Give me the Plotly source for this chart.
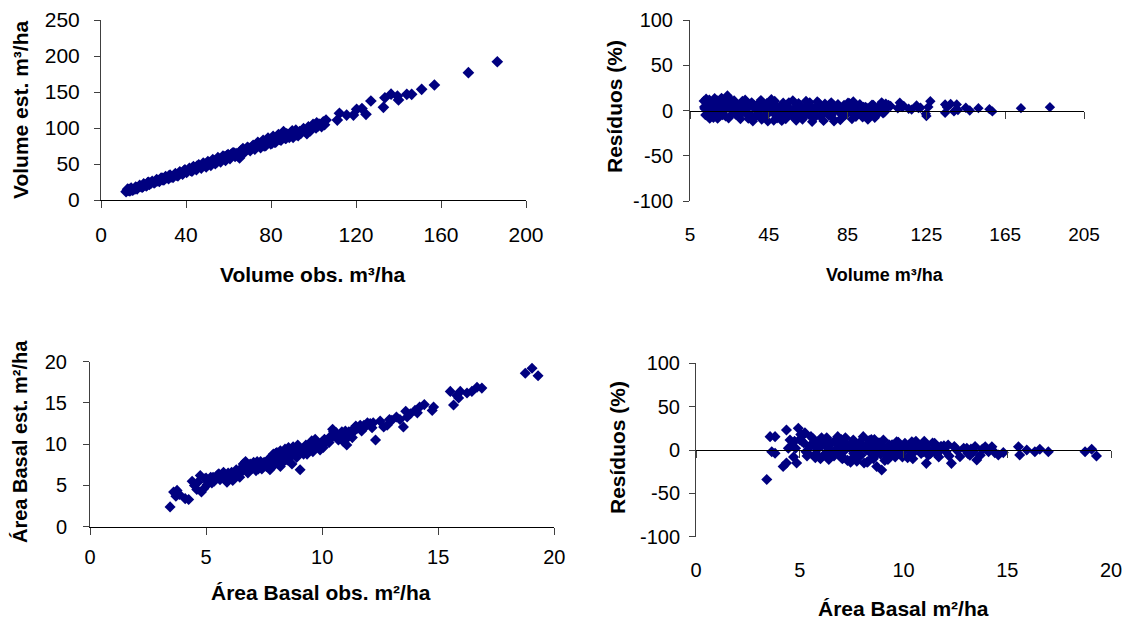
import plotly.graph_objects as go

# ---------------- Data ----------------
# Panel 1: Volume observed vs estimated (m3/ha)
vol_obs = [11.8, 12.5, 13.6, 14.2, 15.1, 16.3, 17.0, 18.2, 19.4, 20.1,
           21.3, 22.0, 22.8, 24.1, 25.0, 26.2, 27.5, 28.3, 29.6, 30.4,
           31.8, 32.5, 33.9, 35.0, 36.2, 37.1, 38.4, 39.5, 40.3, 41.6,
           42.8, 43.5, 44.9, 46.0, 47.2, 48.1, 49.5, 50.3, 51.7, 52.6,
           53.8, 55.0, 56.3, 57.4, 58.6, 59.8, 60.7, 61.9, 63.1, 64.0,
           65.2, 66.8, 67.5, 68.9, 70.2, 71.6, 72.4, 73.8, 75.1, 76.3,
           77.5, 78.6, 79.9, 81.0, 82.2, 83.5, 84.7, 85.9, 86.8, 88.0,
           89.3, 90.4, 91.7, 92.8, 94.0, 95.3, 96.5, 97.6, 98.4, 99.8,
           101.2, 101.5, 103.8, 104.6, 105.9, 111.2, 112.2, 115.6, 118.8, 120.3,
           122.8, 124.7, 127.0, 132.9, 133.6, 136.5, 139.5, 140.0, 143.9, 146.2,
           150.9, 156.9, 172.9, 186.5,
           12.9, 14.7, 16.8, 18.9, 21.8, 23.5, 26.8, 29.0, 31.0, 33.0,
           34.4, 36.7, 38.9, 41.0, 43.1, 45.5, 47.7, 49.0, 51.0, 53.2,
           54.4, 55.6, 57.9, 59.2, 61.3, 62.5, 64.6, 66.0, 68.2, 69.5,
           71.0, 73.1, 74.4, 76.8, 78.0, 80.5, 82.8, 84.1, 85.3, 87.4,
           88.6, 90.0, 91.2, 93.5, 95.0, 96.9, 99.0, 100.5, 102.6, 105.2,
           13.2, 16.0, 19.8, 22.4, 25.6, 28.9, 32.0, 35.6, 39.0, 42.2,
           45.2, 48.5, 52.0, 55.3, 58.0, 60.2, 63.6, 66.3, 69.2, 72.0,
           75.6, 78.3, 81.6, 84.4, 87.1, 89.8, 92.2, 95.6, 98.9, 102.2]
vol_est = [11.6, 15.0, 12.8, 16.5, 14.0, 18.0, 15.5, 20.2, 17.8, 22.5,
           19.6, 24.0, 21.5, 26.0, 23.8, 28.5, 25.9, 30.4, 27.8, 32.6,
           29.5, 34.6, 31.5, 36.8, 33.6, 39.0, 35.9, 41.8, 38.2, 44.0,
           40.1, 46.5, 42.0, 48.8, 44.3, 51.2, 46.0, 53.5, 48.2, 56.0,
           50.4, 58.8, 53.0, 61.0, 55.0, 63.2, 57.5, 65.0, 60.4, 62.0,
           58.5, 71.5, 66.0, 73.0, 68.6, 76.0, 70.5, 80.2, 72.8, 83.0,
           75.5, 86.0, 78.0, 88.5, 80.4, 91.0, 83.0, 95.0, 85.5, 90.0,
           93.5, 87.0, 97.0, 89.5, 92.6, 99.0, 94.5, 101.5, 96.0, 105.0,
           100.0, 107.0, 102.0, 108.5, 111.0, 111.0, 120.4, 118.0, 118.0, 126.0,
           127.0, 119.0, 137.5, 128.7, 142.0, 147.0, 144.4, 139.0, 146.8, 146.8,
           153.7, 159.7, 176.8, 192.0,
           13.5, 13.8, 17.2, 18.5, 21.0, 23.4, 26.5, 28.4, 31.0, 32.0,
           34.0, 37.5, 38.5, 41.2, 44.8, 45.0, 47.5, 50.0, 52.0, 54.5,
           52.5, 56.5, 58.2, 61.8, 63.5, 65.5, 60.8, 69.0, 70.0, 72.0,
           73.5, 75.8, 77.5, 75.0, 82.0, 79.0, 86.5, 84.0, 89.5, 92.0,
           87.0, 96.0, 93.0, 95.0, 96.5, 92.0, 100.5, 104.0, 105.5, 104.5,
           14.8, 15.4, 19.0, 24.5, 25.0, 30.2, 33.5, 34.5, 40.5, 41.0,
           47.0, 49.5, 51.0, 57.0, 60.0, 59.5, 64.5, 68.0, 71.0, 74.0,
           78.5, 81.5, 80.5, 88.0, 86.0, 93.0, 90.5, 97.5, 98.0, 103.0]

# Panel 2: residuals (%) vs volume
vres_x = [12.0, 12.4, 13.5, 14.8, 15.5, 16.9, 17.5, 18.3, 19.6, 20.4,
          21.0, 22.2, 23.1, 24.0, 25.3, 26.5, 27.4, 28.8, 29.9, 31.2,
          32.0, 33.5, 34.6, 35.8, 36.9, 38.0, 39.2, 40.5, 41.4, 42.7,
          43.9, 45.1, 46.3, 47.5, 48.6, 49.8, 51.0, 52.3, 53.6, 54.5,
          55.9, 57.2, 58.4, 59.5, 60.8, 62.1, 63.3, 64.5, 65.8, 67.0,
          68.4, 69.6, 70.9, 72.2, 73.5, 74.8, 76.0, 77.4, 78.8, 80.1,
          81.3, 82.6, 83.9, 85.2, 86.6, 87.9, 89.2, 90.6, 91.9, 93.3,
          94.7, 96.0, 97.4, 98.8, 100.2, 101.5, 103.0, 104.4, 106.8, 111.5,
          112.7, 116.0, 120.0, 121.0, 124.7, 125.0, 127.0, 134.5, 134.5, 137.3,
          139.0, 140.4, 145.0, 147.0, 151.4, 157.0, 158.5, 173.0, 187.7,
          12.8, 13.9, 15.0, 16.2, 17.2, 18.8, 20.0, 21.6, 22.6, 23.6,
          24.6, 25.8, 27.0, 28.1, 29.3, 30.6, 31.6, 32.8, 34.0, 35.2,
          36.3, 37.5, 38.6, 39.8, 41.0, 42.1, 43.3, 44.5, 45.7, 46.9,
          48.0, 49.2, 50.4, 51.6, 52.9, 54.0, 55.2, 56.5, 57.8, 58.9,
          60.1, 61.4, 62.7, 63.9, 65.1, 66.4, 67.7, 69.0, 70.3, 71.5,
          72.8, 74.1, 75.4, 76.7, 78.1, 79.4, 80.7, 82.0, 83.2, 84.5,
          85.9, 87.2, 88.5, 89.9, 91.2, 92.6, 94.0, 95.3, 96.7, 98.1,
          99.5, 100.8, 102.3, 103.7, 105.5, 13.2, 19.0, 25.0, 33.0, 44.0,
          12.2, 14.0, 15.8, 17.8, 19.2, 21.4, 23.3, 24.8, 26.9, 28.5,
          30.2, 32.2, 34.2, 36.0, 37.8, 39.5, 41.2, 43.0, 44.8, 46.6,
          48.3, 50.1, 51.9, 53.2, 55.0, 56.8, 58.6, 60.4, 62.3, 64.1,
          65.9, 67.8, 69.6, 71.3, 73.2, 75.0, 76.9, 78.5, 80.4, 82.3,
          84.0, 85.8, 87.6, 89.5, 91.4, 93.0, 94.9, 96.8, 98.5, 100.4,
          102.0, 104.0, 105.8, 110.5, 113.5, 117.5, 122.0, 126.0, 135.5, 141.0]
vres = [10.5, 2.0, -4.0, 12.0, 6.0, -8.0, 13.5, 3.0, -2.0, 9.0,
        14.0, 0.5, -6.5, 16.5, 5.0, -3.5, 11.0, 2.5, -7.0, 8.0,
        -1.0, 4.5, -9.0, 6.0, -12.0, 2.0, -5.0, 9.5, -10.0, 3.5,
        7.0, -2.5, 12.5, -11.0, 5.0, -6.0, 0.0, 8.5, -9.5, 3.0,
        -4.0, 11.0, -7.5, 1.5, 6.0, -10.0, 4.0, -3.0, 9.0, -12.5,
        2.5, 10.0, -6.0, 0.5, 7.5, -3.5, 4.5, -8.5, 1.0, 7.0,
        -10.5, 3.5, -5.0, 8.5, -2.0, 10.0, -7.0, 5.0, -1.5, -6.5,
        3.0, -4.0, 6.5, -8.0, 2.0, 5.5, -3.0, 7.5, 5.0, 8.5,
        3.7, 2.0, 5.5, 2.6, -3.7, -6.0, 10.3, 6.6, -2.6, 7.3,
        -1.0, 6.6, 3.0, 0.0, 2.6, 1.5, -1.0, 2.6, 3.7,
        -5.0, 8.0, -9.0, 4.0, -3.0, 11.0, 6.0, -5.0, 10.0, 3.0,
        -8.5, 12.0, 0.0, -4.5, 6.5, -9.5, 10.5, -2.0, 5.0, -6.0,
        9.0, -8.0, 4.0, -3.0, 11.5, -7.0, 1.0, -12.0, 8.0, -2.0,
        10.5, -8.5, 4.0, -11.5, 6.5, -2.5, 9.0, -5.5, 2.0, -11.0,
        8.0, 0.0, -7.0, 10.5, -4.5, 5.0, -9.0, 3.0, 8.5, -6.5,
        -11.5, 2.0, -5.5, 9.0, -12.0, 4.0, 0.0, -8.0, 6.0, -3.5,
        8.0, -9.5, 2.5, -4.0, 7.0, -7.5, 4.0, -10.0, 1.5, 6.0,
        -5.5, 3.0, 9.0, -2.0, 3.5, 13.0, -9.0, 7.0, 12.0, 8.0,
        4.0, -1.0, 7.5, 1.0, -4.5, 6.0, 2.0, 8.5, -1.5, 5.0,
        -4.0, 0.5, 2.5, -5.0, 5.5, -1.0, 3.0, -6.0, 1.5, 4.5,
        -3.5, 2.5, -6.5, 1.0, 4.0, -2.0, 3.5, -4.5, 2.0, -1.0,
        3.0, -3.0, 1.5, 4.5, -2.5, 1.0, -5.0, 3.0, -1.5, 2.5,
        -4.0, 1.0, 3.5, -2.5, 0.5, 4.0, -2.0, 1.0, -4.5, 1.5,
        0.5, 2.0, 6.0, 2.5, 5.0, 1.0, 3.0, 4.0, 3.5, 0.5]

# Panel 3: basal area observed vs estimated (m2/ha)
ba_obs = [3.45, 3.6, 3.75, 3.85, 3.7, 4.1, 4.25, 4.4, 4.5, 4.6,
          4.75, 4.8, 4.9, 5.05, 5.2, 5.35, 5.5, 5.6, 5.75, 5.9,
          6.0, 6.15, 6.3, 6.4, 6.55, 6.7, 6.8, 6.9, 7.0, 7.15,
          7.3, 7.4, 7.55, 7.65, 7.75, 7.85, 7.95, 8.05, 8.1, 8.2,
          8.3, 8.4, 8.5, 8.6, 8.7, 8.8, 8.9, 9.0, 9.05, 9.2,
          9.3, 9.48, 9.6, 9.77, 9.91, 10.05, 10.2, 10.34, 10.49, 10.63,
          10.78, 10.92, 11.06, 11.2, 11.35, 11.5, 11.64, 11.85, 12.07, 12.3,
          12.65, 12.8, 13.0, 13.2, 13.5, 13.66, 13.8, 14.0, 14.2, 14.74,
          14.8, 15.52, 15.66, 15.8, 15.88, 15.95, 16.24, 16.45, 16.67, 16.88,
          5.15, 5.45, 5.8, 6.1, 6.45, 6.85, 7.2, 7.5, 7.9, 8.15,
          8.45, 8.75, 9.1, 9.4, 9.7, 10.0, 10.45, 10.7, 11.0, 11.3,
          18.75, 19.04, 19.3,
          4.65, 4.95, 5.25, 5.55, 5.7, 5.95, 6.2, 6.5, 6.6, 6.75,
          6.95, 7.05, 7.25, 7.45, 7.7, 7.8, 8.0, 8.25, 8.35, 8.55,
          8.65, 8.85, 8.95, 9.15, 9.35, 9.55, 9.65, 9.85, 10.1, 10.3,
          10.55, 10.85, 11.1, 11.4, 11.7, 11.95, 12.15, 12.5, 13.35, 14.4,
          5.0, 5.3, 5.65, 6.05, 6.35, 6.6, 7.1, 7.35, 7.6, 7.85,
          8.05, 8.2, 8.4, 8.6, 8.8, 9.0, 9.25, 9.5, 9.75, 10.0,
          10.4, 10.6, 10.9, 11.15, 11.45, 11.8, 12.2, 12.9, 13.6, 14.1]
ba_est = [2.4, 4.2, 4.4, 3.9, 3.7, 3.4, 3.3, 5.5, 5.0, 4.5,
          6.2, 4.2, 4.6, 5.1, 6.0, 5.5, 6.3, 5.7, 6.6, 5.4,
          6.2, 5.6, 6.9, 6.3, 7.2, 7.9, 6.5, 7.6, 7.1, 6.8,
          7.6, 7.0, 7.4, 8.0, 6.9, 8.3, 7.5, 9.0, 8.0, 7.3,
          8.7, 9.4, 8.1, 8.9, 7.6, 9.3, 8.4, 9.6, 6.9, 8.8,
          9.9, 10.1, 9.1, 10.1, 9.3, 9.6, 10.4, 10.9, 11.5, 11.1,
          10.9, 10.3, 9.9, 11.2, 11.5, 11.9, 12.3, 12.1, 12.5, 10.5,
          12.1, 12.3, 12.9, 13.3, 12.1, 13.3, 13.7, 14.1, 14.5, 14.1,
          14.5, 16.4, 14.75, 15.9, 15.6, 16.4, 16.2, 16.4, 16.9, 16.8,
          5.6, 6.1, 6.0, 6.6, 6.0, 7.4, 7.9, 7.8, 8.8, 8.2,
          8.6, 9.7, 9.2, 9.6, 10.6, 10.0, 11.8, 10.5, 11.6, 10.8,
          18.6, 19.2, 18.3,
          5.4, 5.8, 5.3, 6.4, 6.1, 6.5, 6.0, 6.6, 7.6, 7.0,
          7.3, 7.8, 7.0, 7.2, 8.2, 7.6, 8.9, 8.6, 7.9, 9.6,
          8.5, 9.0, 9.9, 9.4, 8.8, 10.4, 9.6, 9.8, 10.6, 10.2,
          11.2, 11.5, 10.8, 12.0, 11.6, 12.6, 12.0, 12.8, 13.0, 14.8,
          5.9, 6.0, 6.2, 6.0, 6.7, 6.9, 7.5, 7.9, 7.3, 8.6,
          8.2, 9.2, 8.8, 8.7, 9.3, 9.1, 9.5, 9.8, 10.2, 10.3,
          10.8, 11.4, 11.0, 11.5, 12.2, 12.3, 12.6, 13.0, 14.0, 13.8]

# Panel 4: residuals (%) vs basal area
bres_x = [3.41, 3.57, 3.81, 3.65, 3.81, 4.2, 4.36, 4.36, 4.53, 4.6,
          4.93, 4.85, 4.7, 5.17, 5.54, 5.86, 6.18, 6.5, 6.83, 7.15,
          7.47, 5.3, 5.7, 6.0, 6.35, 6.65, 7.0, 7.3, 7.6, 7.9,
          8.06, 7.58, 8.25, 8.4, 8.55, 8.71, 8.95, 9.03, 9.2, 9.4,
          9.67, 9.83, 10.07, 10.4, 10.8, 11.1, 11.5, 11.83, 12.15, 12.31,
          12.72, 13.05, 13.37, 13.53, 13.94, 14.26, 14.57, 14.81, 15.54, 15.6,
          15.94, 16.33, 16.57, 16.98, 18.75, 19.07, 19.3, 5.0, 5.8, 6.6,
          7.1, 7.8, 8.3, 8.8, 9.5, 10.2, 10.6, 11.3, 11.7, 12.5,
          13.2, 13.8, 14.1, 6.3, 7.45, 8.15, 8.6, 9.25, 10.3, 10.95,
          5.1, 5.4, 5.65, 5.95, 6.1, 6.4, 6.7, 6.9, 7.2, 7.4,
          7.7, 7.95, 8.1, 8.35, 8.5, 8.65, 8.85, 9.1, 9.35, 9.55,
          9.75, 9.95, 10.15, 10.45, 10.65, 10.9, 11.2, 11.4, 11.65, 11.95,
          12.2, 12.45, 12.9, 13.1, 13.45, 13.7, 14.0, 14.4, 5.25, 5.75,
          6.25, 6.75, 7.25, 7.75, 8.2, 8.45, 8.9, 9.45, 9.9, 10.5,
          11.0, 11.6, 4.45, 4.75, 5.05, 5.55, 6.05, 6.55, 7.05, 7.55,
          4.8, 5.2, 5.5, 5.85, 6.15, 6.45, 6.8, 7.1, 7.35, 7.65,
          7.85, 8.0, 8.2, 8.4, 8.6, 8.8, 9.0, 9.2, 9.45, 9.7,
          9.9, 10.1, 10.35, 10.6, 10.85, 11.05, 11.3, 11.55, 11.8, 12.05,
          5.35, 5.9, 6.3, 6.6, 6.95, 7.3, 7.6, 7.95, 8.3, 8.7,
          9.05, 9.3, 9.6, 10.0, 10.4, 10.75, 11.15, 12.6, 13.25, 13.9]
bres = [-34.0, 15.4, 15.4, -2.0, -3.8, -19.0, -15.0, 23.0, 11.5, 5.0,
        25.0, -15.0, -8.0, 17.3, 15.4, 7.7, 11.5, 7.7, 15.4, 3.8,
        7.7, -2.0, -6.0, -10.0, 2.0, -7.0, 12.0, -12.0, -4.0, 9.0,
        15.4, 11.5, -14.0, 6.0, -10.0, -19.0, -23.0, 11.5, -6.0, 4.0,
        9.6, 0.0, 7.7, 9.6, 3.8, -15.4, 7.7, 3.8, 5.8, -15.4,
        -7.7, 1.9, -2.0, -11.5, 3.8, 3.8, -5.8, -3.0, 3.8, -5.8,
        0.0, -2.0, 0.8, -2.0, -2.0, 0.8, -7.0, 12.0, 4.0, -5.0,
        -9.0, 2.0, -13.0, 8.0, -5.0, -9.0, 10.0, -4.0, -8.0, 2.0,
        -6.0, 1.0, -2.0, 14.0, -14.0, 2.0, 12.0, -11.0, 4.0, -2.0,
        10.0, -4.0, 13.0, -8.0, 6.0, -11.0, 9.0, -6.0, 14.0, 3.0,
        -9.0, 7.0, -15.0, 11.0, 2.0, -6.0, 8.0, -12.0, 5.0, -4.0,
        9.0, -8.0, 2.0, -10.0, 6.0, 1.0, -6.0, 8.0, -3.0, 5.0,
        -7.0, 4.0, 2.0, -4.0, 4.0, -6.0, 1.0, -3.0, 20.0, -9.0,
        -4.0, 12.0, 7.0, -13.0, 3.0, 12.0, -5.0, 6.0, -3.0, 8.0,
        10.0, -5.0, 2.0, 10.0, 18.0, 6.0, 14.0, -3.0, -10.0, 6.0,
        2.0, 8.0, 4.0, 1.0, -6.0, 6.0, 2.0, -2.0, 4.0, 0.0,
        -5.0, 4.0, 0.0, -3.0, 5.0, -1.0, 2.0, -4.0, 1.0, 3.0,
        -4.0, 4.0, -1.0, 2.0, -4.0, 5.0, -2.0, 1.0, 4.0, -2.0,
        -7.0, 10.0, 5.0, -3.0, 8.0, 4.0, -8.0, -6.0, 8.0, 3.0,
        -3.0, 6.0, -8.0, 5.0, -5.0, 3.0, 2.0, -1.0, 1.0, 2.0]

vol_ticks = [0, 40, 80, 120, 160, 200]
vol_est_ticks = [0, 50, 100, 150, 200, 250]
vres_xticks = [5, 45, 85, 125, 165, 205]
res_ticks = [-100, -50, 0, 50, 100]
ba_ticks = [0, 5, 10, 15, 20]

# ---------------- Figure ----------------
W, H = 1132, 623
FONT = "Liberation Sans, Arial, sans-serif"
NAVY = "#000080"


def mark(size=9):
    return dict(symbol="diamond", size=size, color=NAVY, line=dict(width=0))


def px_x(p):
    return p / W


def px_y(p):
    return 1 - p / H


fig = go.Figure()
fig.add_trace(go.Scatter(x=vol_obs, y=vol_est, mode="markers", marker=mark(9), xaxis="x", yaxis="y"))
fig.add_trace(go.Scatter(x=vres_x, y=vres, mode="markers", marker=mark(8), xaxis="x2", yaxis="y2"))
fig.add_trace(go.Scatter(x=ba_obs, y=ba_est, mode="markers", marker=mark(8.5), xaxis="x3", yaxis="y3"))
fig.add_trace(go.Scatter(x=bres_x, y=bres, mode="markers", marker=mark(8.5), xaxis="x4", yaxis="y4"))
# empty traces so that the zero-line axes (x5, x6) get drawn
fig.add_trace(go.Scatter(x=[], y=[], xaxis="x5", yaxis="y2", showlegend=False))
fig.add_trace(go.Scatter(x=[], y=[], xaxis="x6", yaxis="y4", showlegend=False))

AX_LINE = "#404040"


def labels(vals):
    return [str(v) for v in vals]  # plain hyphen-minus, as in the reference


def xax(domain, rng, ticks, anchor, size=20, standoff=14, line=True, tl=7):
    return dict(domain=domain, range=rng, tickvals=ticks, ticktext=labels(ticks),
                anchor=anchor, showgrid=False, zeroline=False, automargin=False,
                showline=line, linecolor="#000000", linewidth=1,
                ticks="outside" if line else "", ticklen=tl, tickcolor=AX_LINE,
                ticklabelstandoff=standoff,
                tickfont=dict(family=FONT, size=size, color="#000000"))


def yax(domain, rng, ticks, anchor, size=20, standoff=10):
    return dict(domain=domain, range=rng, tickvals=ticks, ticktext=labels(ticks),
                anchor=anchor, showgrid=False, zeroline=False, automargin=False,
                showline=True, linecolor=AX_LINE, linewidth=1,
                ticks="outside", ticklen=6, tickcolor=AX_LINE,
                ticklabelstandoff=standoff,
                tickfont=dict(family=FONT, size=size, color="#000000"))


d1x = [px_x(101), px_x(526)]
d1y = [px_y(200), px_y(20)]
d2x = [px_x(690), px_x(1084)]
d2y = [px_y(201), px_y(20)]
d3x = [px_x(90), px_x(554.3)]
d3y = [px_y(526.7), px_y(361.7)]
d4x = [px_x(696), px_x(1111)]
d4y = [px_y(536.7), px_y(363.3)]

fig.update_layout(
    width=W, height=H, autosize=False,
    margin=dict(l=0, r=0, t=0, b=0, pad=0, autoexpand=False),
    paper_bgcolor="white", plot_bgcolor="white",
    showlegend=False,
    xaxis=xax(d1x, [0, 200], vol_ticks, "y", size=21, standoff=9),
    yaxis=yax(d1y, [0, 250], vol_est_ticks, "x", size=21, standoff=10),
    xaxis2=xax(d2x, [5, 205], vres_xticks, "y2", size=19, standoff=20, line=False),
    yaxis2=yax(d2y, [-100, 100], res_ticks, "x2", size=20, standoff=6),
    xaxis3=xax(d3x, [0, 20], ba_ticks, "y3", size=20, standoff=5),
    yaxis3=yax(d3y, [0, 20], ba_ticks, "x3", size=20, standoff=12),
    xaxis4=xax(d4x, [0, 20], ba_ticks, "y4", size=20, standoff=19, line=False),
    yaxis4=yax(d4y, [-100, 100], res_ticks, "x4", size=20, standoff=5),
    xaxis5=dict(overlaying="x2", range=[5, 205], tickvals=vres_xticks, anchor="free",
                position=(d2y[0] + d2y[1]) / 2, showgrid=False, zeroline=False,
                automargin=False,
                showline=True, linecolor="#000000", linewidth=1,
                ticks="outside", ticklen=7, tickcolor=AX_LINE, showticklabels=False),
    xaxis6=dict(overlaying="x4", range=[0, 20], tickvals=ba_ticks, anchor="free",
                position=(d4y[0] + d4y[1]) / 2, showgrid=False, zeroline=False,
                automargin=False,
                showline=True, linecolor="#000000", linewidth=1,
                ticks="outside", ticklen=7, tickcolor=AX_LINE, showticklabels=False),
)


def title(text, x, y, angle=0, size=21):
    fig.add_annotation(text="<b>%s</b>" % text, xref="paper", yref="paper",
                       x=px_x(x), y=px_y(y), xanchor="center", yanchor="middle",
                       showarrow=False, textangle=angle,
                       font=dict(family=FONT, size=size, color="#000000"))


title("Volume obs. m³/ha", 312, 274)
title("Volume est. m³/ha", 20, 110, -90)
title("Volume m³/ha", 885, 275, size=18)
title("Resíduos (%)", 615, 107, -90)
title("Área Basal obs. m²/ha", 321, 592)
title("Área Basal est. m²/ha", 20, 442, -90, size=20)
title("Área Basal m²/ha", 903, 608)
title("Resíduos (%)", 617, 448, -90)

fig.write_html("out.html")
